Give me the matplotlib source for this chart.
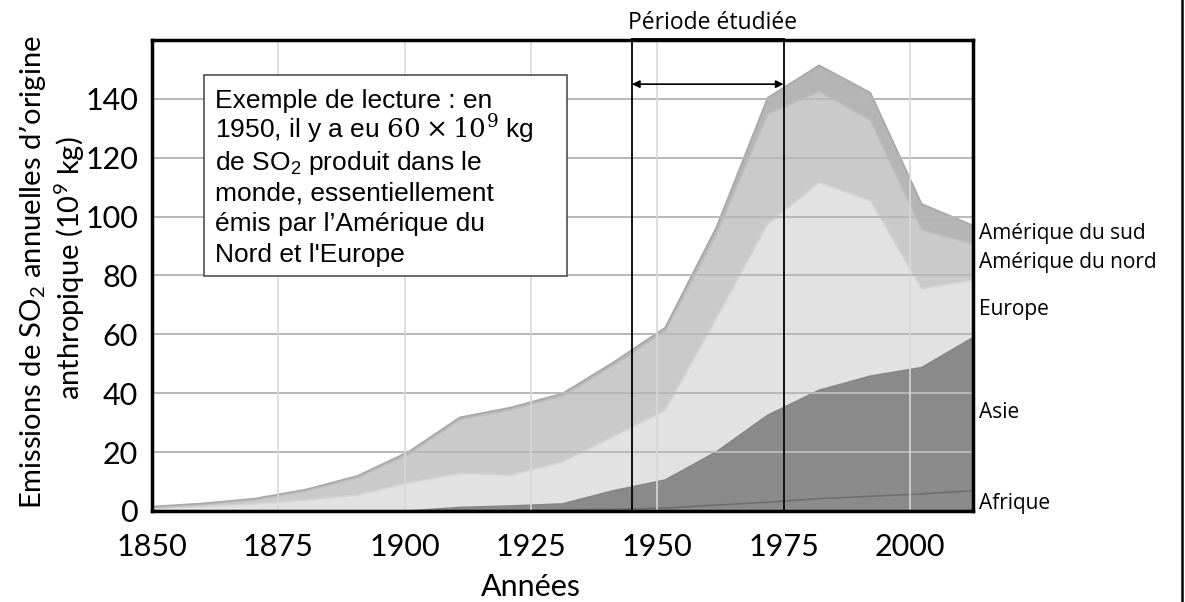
import matplotlib
matplotlib.use('Agg')
import matplotlib.pyplot as plt
import numpy as np
from matplotlib.patches import Rectangle
from matplotlib.lines import Line2D

# données (10^9 kg de SO2 par an)
annees = list(range(1850, 2011, 10))
afrique = [0, 0, 0, 0, 0, 0, 0.2, 0.3, 0.4, 0.6, 1.0, 2.0, 3.0, 4.2, 5.0, 5.8, 6.9]
asie = [0, 0, 0, 0, 0, 0, 1.0, 1.4, 2.0, 6.3, 9.5, 18.1, 29.5, 36.8, 40.8, 42.9, 52.0]
europe = [0.8, 1.5, 2.4, 3.7, 5.4, 9.6, 11.6, 10.5, 14.3, 18.5, 23.7, 45.4, 65.0, 70.6, 59.6, 26.8, 19.6]
amerique_nord = [0.4, 0.7, 1.4, 3.1, 5.9, 9.7, 18.2, 22.2, 22.3, 24.1, 26.9, 28.5, 37.3, 30.9, 27.4, 20.0, 12.2]
amerique_sud = [0.3, 0.4, 0.4, 0.5, 0.6, 0.8, 0.8, 0.8, 0.9, 1.1, 1.2, 2.4, 5.6, 8.9, 9.3, 8.8, 6.3]

regions = ['Afrique', 'Asie', 'Europe', 'Amérique du nord', 'Amérique du sud']
couleurs = ['#8a8a8a', '#8a8a8a', '#e2e2e2', '#cacaca', '#b5b5b5']
bords = ['#6e6e6e', '#858585', '#d4d4d4', '#bdbdbd', '#a8a8a8']

ticks_x = [1850, 1875, 1900, 1925, 1950, 1975, 2000]
ticks_y = [0, 20, 40, 60, 80, 100, 120, 140]
periode = (1945, 1975)

lignes_encadre = [
    "Exemple de lecture : en",
    r"1950, il y a eu $60 \times 10^9$ kg",
    r"de SO$_\mathregular{2}$ produit dans le",
    "monde, essentiellement",
    "émis par l\u2019Amérique du",
    "Nord et l'Europe",
]

plt.rcParams['mathtext.fontset'] = 'dejavuserif'
police = ['Lato', 'DejaVu Sans']
police2 = ['Open Sans', 'DejaVu Sans']

fig = plt.figure(figsize=(11.85, 6.02), dpi=100)
W, H = 1185, 602
ax = fig.add_axes([152 / W, 1 - 511 / H, (973 - 152) / W, (511 - 40) / H])

series = [afrique, asie, europe, amerique_nord, amerique_sud]
ax.stackplot(annees, *series, colors=couleurs, linewidth=0)
cumul = np.cumsum(np.array(series), axis=0)
for c, b in zip(cumul, bords):
    ax.plot(annees, c, color=b, lw=1.2)
ax.set_xlim(1850, 2010)
ax.set_ylim(0, 160)
ax.set_xticks([])
ax.set_yticks(ticks_y)
ax.tick_params(axis='y', length=0, pad=10, labelsize=22)
for t in ax.get_yticklabels():
    t.set_family(police)
for s in ax.spines.values():
    s.set_visible(False)

# axe des années (graduations, grille, période)
ax2 = ax.twiny()
ax2.set_xlim(1850, 2012.5)
ax2.xaxis.set_ticks_position('bottom')
ax2.set_xticks(ticks_x)
ax2.tick_params(axis='x', length=0, pad=16, labelsize=22)
for t in ax2.get_xticklabels():
    t.set_family(police)
for y in ticks_y[1:]:
    ax2.axhline(y, color='#b8b8b8', lw=1.4, zorder=1)
for x in ticks_x[1:]:
    ax2.axvline(x, color='#d8d8d8', lw=1.2, zorder=1)
for s in ax2.spines.values():
    s.set_linewidth(2.5)

ax2.add_patch(Rectangle((periode[0], 0), periode[1] - periode[0], 160.4, fill=False,
                        edgecolor='black', lw=1.3, zorder=3, clip_on=False))
ax2.annotate('', xy=(periode[0], 145), xytext=(periode[1], 145),
             arrowprops=dict(arrowstyle='<|-|>', color='black', lw=1.2,
                             shrinkA=0, shrinkB=0, mutation_scale=11))
fig.text(713 / W, 1 - 23 / H, 'Période étudiée', ha='center', va='center',
         fontsize=16.5, family=police2)

# encadré
fig.add_artist(Rectangle((204 / W, 1 - 276 / H), (567 - 204) / W, (276 - 75) / H,
                         transform=fig.transFigure, facecolor='white',
                         edgecolor='#505050', lw=1.2, zorder=5))
for i, ligne in enumerate(lignes_encadre):
    fig.text(215 / W, 1 - (108 + 30.8 * i) / H, ligne, ha='left', va='baseline',
             fontsize=19, family=['Liberation Sans', 'DejaVu Sans'], zorder=6)

# étiquettes des régions
pos_y = [503, 413, 309, 263, 234]
for nom, y in zip(regions, pos_y):
    fig.text(979 / W, 1 - y / H, nom, ha='left', va='center', fontsize=15,
             family=police2)

# titres des axes
fig.text(33 / W, 1 - 272 / H, "Emissions de SO$_\\mathregular{2}$ annuelles d\u2019origine",
         rotation=90, ha='center', va='center', fontsize=21, family=police)
fig.text(70 / W, 1 - 268 / H, "anthropique (10$^\\mathregular{9}$ kg)",
         rotation=90, ha='center', va='center', fontsize=21, family=police)
fig.text(531 / W, 1 - 587 / H, 'Années', ha='center', va='center', fontsize=22,
         family=police)

fig.add_artist(Line2D([1182 / W, 1182 / W], [0, 1], transform=fig.transFigure,
                      color='black', lw=1.8))

fig.savefig('out.png', dpi=100)
